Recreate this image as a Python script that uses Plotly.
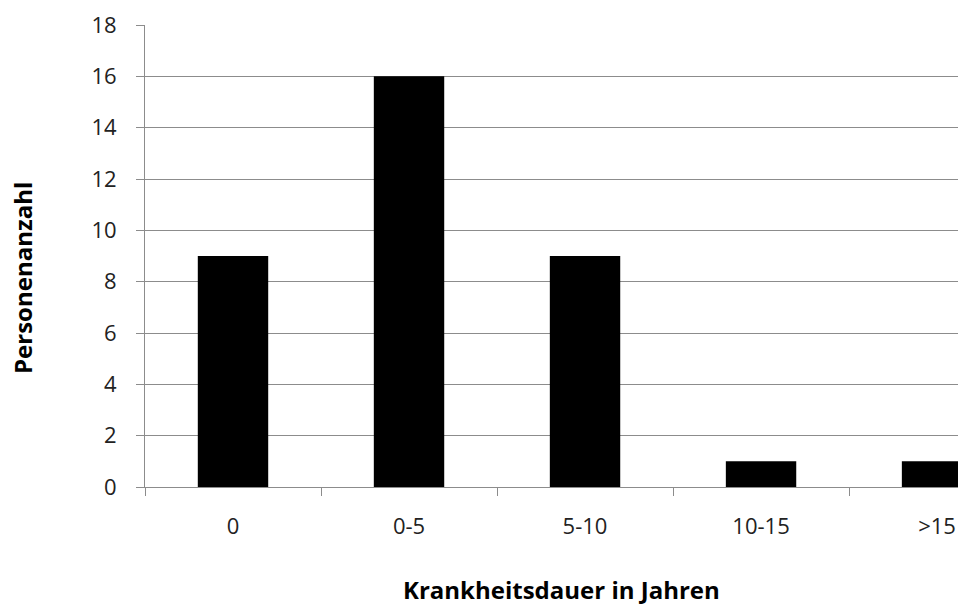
import plotly.graph_objects as go

categories = ["0", "0-5", "5-10", "10-15", ">15"]
persons = [9, 16, 9, 1, 1]
y_ticks = [0, 2, 4, 6, 8, 10, 12, 14, 16, 18]

FONT = "Open Sans"
W, H = 958, 605
L, T, B, R = 145, 25, 605 - 487, 0
PW, PH = W - L - R, H - T - B

fig = go.Figure(go.Bar(x=categories, y=persons, marker=dict(color="black", line=dict(width=0)), width=0.4))

fig.update_layout(
    width=W, height=H,
    margin=dict(l=L, r=R, t=T, b=B),
    plot_bgcolor="white", paper_bgcolor="white",
    showlegend=False,
    font=dict(family=FONT, size=22, color="#000"),
)
fig.update_xaxes(
    type="category",
    range=[-0.5, 4.119],
    showline=True, linecolor="#8c8c8c", linewidth=1,
    ticks="outside", tickson="boundaries", ticklen=8, tickcolor="#8c8c8c",
    showgrid=False, tickfont=dict(size=22, family=FONT, color="#222"),
    ticklabelstandoff=20,
)
fig.update_yaxes(
    range=[0, 18], tickvals=y_ticks,
    showline=True, linecolor="#8c8c8c", linewidth=1,
    ticks="outside", ticklen=8, tickcolor="#8c8c8c",
    showgrid=True, gridcolor="#8c8c8c", gridwidth=1, zeroline=False,
    tickfont=dict(size=22, family=FONT, color="#222"),
    ticklabelstandoff=15,
)
fig.add_annotation(text="<b>Krankheitsdauer in Jahren</b>", xref="paper", yref="paper",
                   x=(561 - L) / PW, y=-(589 - (H - B)) / PH,
                   showarrow=False, font=dict(size=24, family=FONT, color="#000"),
                   xanchor="center", yanchor="middle")
fig.add_annotation(text="<b>Personenanzahl</b>", xref="paper", yref="paper",
                   x=-(L - 22) / PW, y=((H - B) - 278) / PH,
                   showarrow=False, textangle=-90, font=dict(size=24, family=FONT, color="#000"),
                   xanchor="center", yanchor="middle")

fig.write_html(
    "out.html",
    config={"displayModeBar": False},
    post_script="document.body.style.margin='0';document.body.style.padding='0';"
                "document.documentElement.style.overflow='hidden';document.body.style.overflow='hidden';",
)
